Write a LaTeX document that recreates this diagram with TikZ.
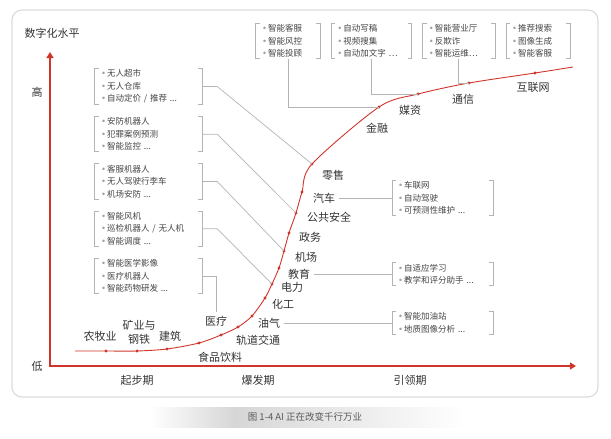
\documentclass[tikz,border=0pt]{standalone}
\usepackage{fontspec}
\setmainfont{Noto Sans CJK SC}
\newfontfamily\dotfont{DejaVu Sans}
\usepackage{xcolor}
\definecolor{CurveRed}{HTML}{D0352C}
\definecolor{LinkGray}{HTML}{B4B4B4}
\definecolor{FrameGray}{HTML}{DCDCDC}
\definecolor{LabelText}{HTML}{333333}
\definecolor{ItemText}{HTML}{444444}
\definecolor{BulletGray}{HTML}{A0A0A0}
\usepackage{tikz}
\usetikzlibrary{arrows.meta,positioning}
\newcommand{\bul}{{\color{BulletGray}\dotfont\textbullet}\hspace{1pt}}

\begin{document}
\begin{tikzpicture}[x=1pt, y=-1pt, every node/.style={font=\fontsize{11}{13}\selectfont, text=LabelText}]
\tikzset{item/.style={font=\fontsize{8.5}{12.5}\selectfont, text=ItemText, align=left, inner xsep=6pt, inner ysep=1pt}}
\tikzset{brk/.style={draw=LinkGray, line width=0.8pt}}
\tikzset{link/.style={draw=LinkGray, line width=0.7pt}}
\tikzset{axis/.style={draw=CurveRed, line width=1.3pt, {Triangle[length=6pt,width=7pt]}-{Triangle[length=6pt,width=7pt]}}}
\tikzset{curve/.style={draw=CurveRed, line width=0.9pt}}

\useasboundingbox (0,0) rectangle (611,439);
\draw[FrameGray, line width=1.2pt, rounded corners=10pt] (12,10) rectangle (598,397);

\shade[left color=white, right color=black!16] (150,407) rectangle (235,427);
\shade[left color=black!16, right color=white] (235,407) rectangle (465,427);
\node[font=\fontsize{9.5}{11}\selectfont, text=black!65] (caption) at (305,417) {图 1-4 AI 正在改变千行万业};

\coordinate (origin) at (50,366);
\coordinate (ytip) at (50,52);
\coordinate (xtip) at (576,366);
\draw[axis] (ytip) -- (origin) -- (xtip);
\node (ylabel) at (52,33) {数字化水平};
\node (high) at (37,92) {高};
\node (low) at (37,366) {低};
\node (start) at (137,380) {起步期};
\node (burst) at (258,380) {爆发期};
\node (lead) at (410,380) {引领期};

\foreach \n/\x/\y in {agri/106/351, mining/137/351, build/167/349, food/199/343, health/221/335,
  rail/238/327, oilgas/252/316, chem/265/298, power/272/284, edu/279/268, airport/284/251,
  gov/289/233, safety/296/213, auto/302/192, retail/312/164, finance/379/107, media/418/94,
  telecom/469/83, internet/535/73}
  \coordinate (\n-pt) at (\x,\y);
\coordinate (curve-start) at (75,351);
\coordinate (curve-end) at (573,67);
\draw[curve] plot[smooth] coordinates {(curve-start) (agri-pt) (mining-pt) (build-pt) (food-pt)
  (health-pt) (rail-pt) (oilgas-pt) (chem-pt) (power-pt) (edu-pt) (airport-pt) (gov-pt)
  (safety-pt) (auto-pt) (retail-pt) (finance-pt) (media-pt) (telecom-pt) (internet-pt) (curve-end)};
\foreach \n in {agri,mining,build,food,health,rail,oilgas,chem,power,edu,airport,gov,safety,auto,retail,finance,media,telecom,internet}
  \fill[CurveRed] (\n-pt) circle (1.7pt);

\node (agri) at (100,336) {农牧业};
\node[align=center, font=\fontsize{11}{14}\selectfont] (mining) at (139,332) {矿业与\\钢铁};
\node (build) at (170,336) {建筑};
\node (food) at (220,357) {食品饮料};
\node (health) at (216,321) {医疗};
\node (rail) at (258,340) {轨道交通};
\node (oilgas) at (269,323) {油气};
\node (chem) at (283,304) {化工};
\node (power) at (292,287) {电力};
\node (edu) at (299,274) {教育};
\node (airport) at (306,257) {机场};
\node (gov) at (310,237) {政务};
\node (safety) at (329,217) {公共安全};
\node (auto) at (324,198) {汽车};
\node (retail) at (333,175) {零售};
\node (finance) at (377,128) {金融};
\node (media) at (410,110) {媒资};
\node (telecom) at (463,99) {通信};
\node (internet) at (533,87) {互联网};

\node[item, text width=52pt] (finance-box) at (288,41) {\bul 智能客服\\\bul 智能风控\\\bul 智能投顾};
\node[item, text width=68pt, right=11pt of finance-box] (media-box) {\bul 自动写稿\\\bul 视频搜集\\\bul 自动加文字 …};
\node[item, text width=60pt, right=11pt of media-box] (telecom-box) {\bul 智能营业厅\\\bul 反欺诈\\\bul 智能运维…};
\node[item, text width=52pt, right=11pt of telecom-box] (internet-box) {\bul 推荐搜索\\\bul 图像生成\\\bul 智能客服};

\node[item, text width=95pt] (retail-box) at (148.5,86.5) {\bul 无人超市\\\bul 无人仓库\\\bul 自动定价 / 推荐 ...};
\node[item, text width=95pt, below=12pt of retail-box] (safety-box) {\bul 安防机器人\\\bul 犯罪案例预测\\\bul 智能监控 ...};
\node[item, text width=95pt, below=12pt of safety-box] (airport-box) {\bul 客服机器人\\\bul 无人驾驶行李车\\\bul 机场安防 ...};
\node[item, text width=95pt, below=12pt of airport-box] (power-box) {\bul 智能风机\\\bul 巡检机器人 / 无人机\\\bul 智能调度 ...};
\node[item, text width=95pt, below=12pt of power-box] (health-box) {\bul 智能医学影像\\\bul 医疗机器人\\\bul 智能药物研发 ...};

\node[item, text width=89pt, anchor=west] (auto-box) at (392,198) {\bul 车联网\\\bul 自动驾驶\\\bul 可预测性维护 ...};
\node[item, text width=89pt, anchor=west] (edu-box) at (auto-box.west |- edu) {\bul 自适应学习\\\bul 教学和评分助手 ...};
\node[item, text width=89pt, anchor=west] (oilgas-box) at (auto-box.west |- oilgas) {\bul 智能加油站\\\bul 地质图像分析 ...};

\foreach \b in {finance-box,media-box,telecom-box,internet-box,retail-box,safety-box,airport-box,power-box,health-box,auto-box,edu-box,oilgas-box}{
  \draw[brk] ([xshift=4pt]\b.north west) -| (\b.south west) -- ++(4pt,0);
  \draw[brk] ([xshift=-4pt]\b.north east) -| (\b.south east) -- ++(-4pt,0);
}

\draw[link] (retail-box.east) -- ++(15,0) -- (retail-pt);
\draw[link] (safety-box.east) -- ++(15,0) -- (safety-pt);
\draw[link] (airport-box.east) -- ++(15,0) -- (airport-pt);
\draw[link] (power-box.east) -- ++(15,0) -- (power-pt);
\draw[link] (health-box.east) -| (health.north);
\draw[link] (auto.east) -- (auto-box.west);
\draw[link] (edu.east) -- (edu-box.west);
\draw[link] (oilgas.east) -- (oilgas-box.west);
\draw[link] (finance-box.south) |- (finance-pt);
\draw[link] (media-box.south) |- (media-pt);
\draw[link] (telecom-box.south) |- (telecom-pt);
\end{tikzpicture}
\end{document}
